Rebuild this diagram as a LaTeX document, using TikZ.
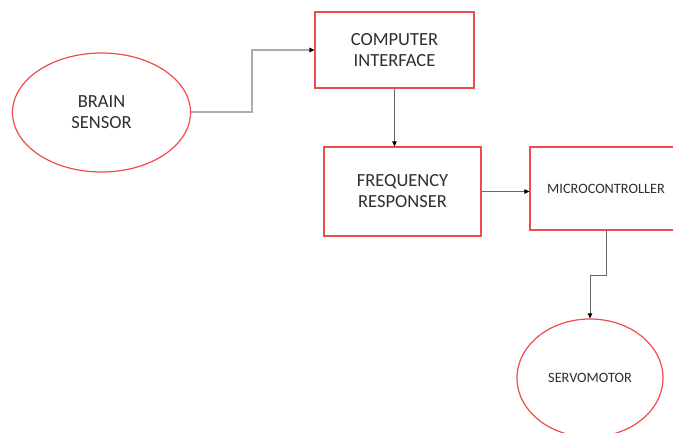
\documentclass[tikz,border=0pt]{standalone}
\usepackage{fontspec}
\setmainfont{Carlito}
\usetikzlibrary{shapes.geometric,arrows.meta}
\definecolor{boxred}{HTML}{F04C4C}
\definecolor{txt}{HTML}{2E2E2E}
\tikzset{
  blk/.style={draw=boxred, line width=1.2pt, rectangle, inner sep=0pt, align=center, text=txt},
  ell/.style={draw=boxred, line width=1.2pt, ellipse, inner sep=0pt, align=center, text=txt},
  big/.style={font=\fontsize{18.5}{21}\selectfont},
  small/.style={font=\fontsize{14.3}{17}\selectfont},
  tip/.style={-{Triangle[length=5pt,width=4.5pt,fill=black,color=black]}},
  conn/.style={draw=gray!80!black, line width=0.9pt, tip},
  connlight/.style={draw=gray!65, line width=1.4pt, tip}
}
\begin{document}
\begin{tikzpicture}[x=1pt,y=-1pt]
\useasboundingbox (0,0) rectangle (673,433);
\clip (0,0) rectangle (673,433);
\node[ell,big, minimum width=178pt, minimum height=119pt] (bs) at (101.5,112.5) {BRAIN\\SENSOR};
\node[blk,big, minimum width=159pt, minimum height=76pt] (ci) at (394.5,50) {COMPUTER\\INTERFACE};
\node[blk,big, minimum width=157pt, minimum height=89pt] (fr) at (402.5,191.5) {FREQUENCY\\RESPONSER};
\node[blk,small, minimum width=152pt, minimum height=83pt] (mc) at (606,188.5) {MICROCONTROLLER};
\node[ell,small, minimum width=146pt, minimum height=118pt] (sv) at (590,378) {SERVOMOTOR};
\coordinate (b1) at (252,112);
\draw[connlight] (bs.east |- b1) -- (b1) |- (ci.west);
\draw[conn] (ci.south) -- (ci.south |- fr.north);
\draw[conn] (fr.east) -- (fr.east -| mc.west);
\coordinate (b2) at (606,275);
\draw[conn] (mc.south) -- (b2) -| (sv.north);
\end{tikzpicture}
\end{document}
